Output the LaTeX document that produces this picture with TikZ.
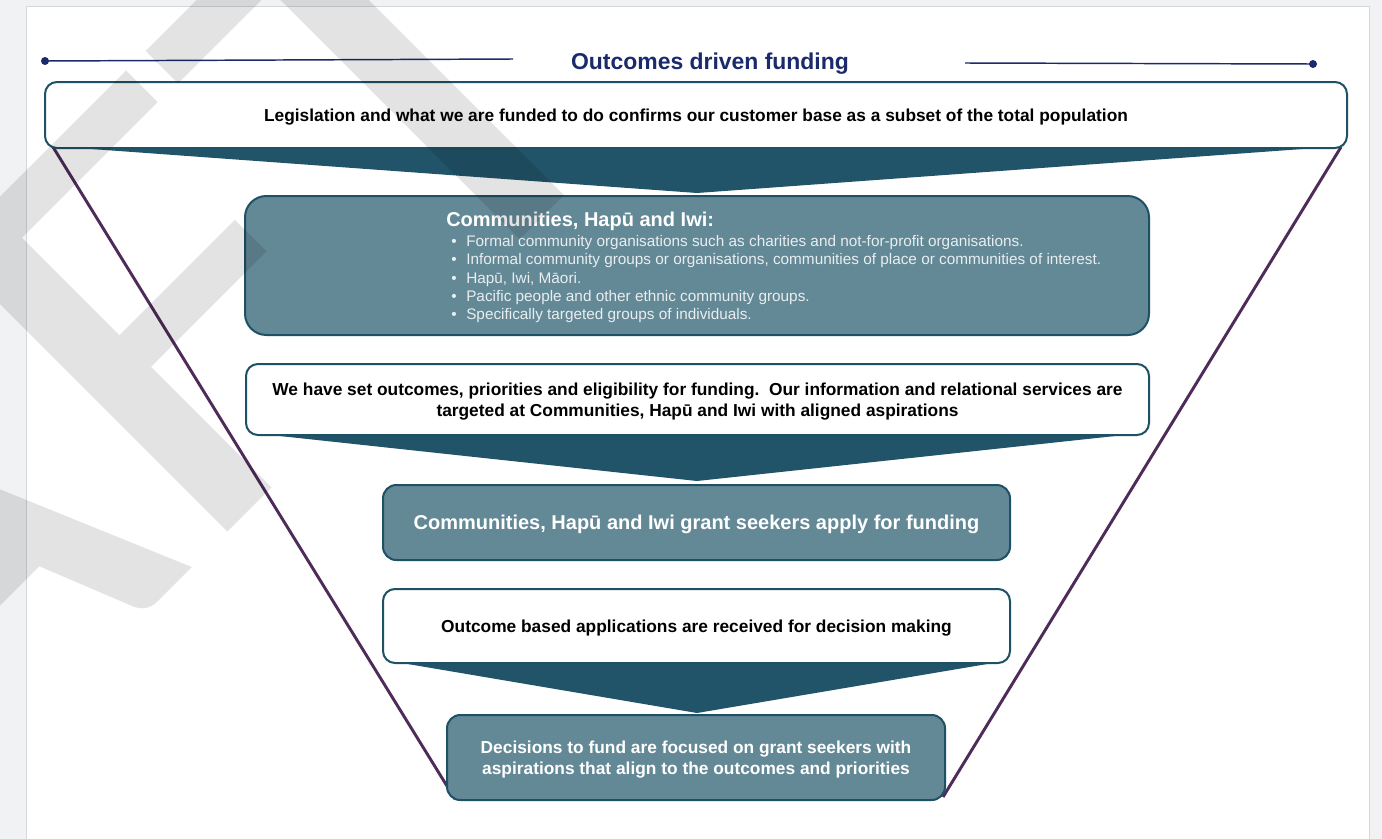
\documentclass[tikz,border=0pt]{standalone}
\usepackage{fontspec}
\setmainfont{Liberation Sans}
\newfontfamily\wmfont[Kerning=Off]{Carlito}
\definecolor{pagegrey}{HTML}{F1F2F4}
\definecolor{pageedge}{HTML}{D5D7DA}
\definecolor{navy}{HTML}{1B2A6B}
\definecolor{tealdark}{HTML}{215468}
\definecolor{tealedge}{HTML}{1E5165}
\definecolor{tealfill}{HTML}{638896}
\definecolor{funnelline}{HTML}{4E2B58}
\definecolor{listwhite}{HTML}{E9EEF0}
\begin{document}
\begin{tikzpicture}[x=0.75pt,y=-0.75pt,
  whitebox/.style={draw=tealedge, line width=1.5pt, fill=white, rounded corners=9pt, inner sep=0pt},
  tealbox/.style={draw=tealedge, line width=1.5pt, fill=tealfill, rounded corners=10pt, inner sep=0pt},
  wedge/.style={fill=tealdark},
  funnel/.style={draw=funnelline, line width=2.2pt},
  rule/.style={draw=navy, line width=1.1pt},
  dot/.style={circle, fill=navy, inner sep=0pt, minimum size=6pt},
  bodytext/.style={font=\fontsize{13}{15.75}\selectfont\bfseries, align=center, text depth=0pt},
  oneline/.style={text height=9.3pt},
  listtext/.style={font=\fontsize{11.5}{13.7}\selectfont, text=listwhite, inner sep=0pt}]
\useasboundingbox (0,0) rectangle (1382,839);
\begin{scope}
\clip (0,0) rectangle (1382,839);
% page
\fill[pagegrey] (0,0) rectangle (1382,839);
\draw[pageedge, fill=white, line width=0.8pt] (26.5,6.5) rectangle (1369.5,860);

% title with rules
\coordinate (l1) at (45,61);
\coordinate (l2) at (513,59);
\coordinate (r1) at (965,63);
\coordinate (r2) at (1313,64);
\draw[rule] (l1) -- (l2);
\draw[rule] (r1) -- (r2);
\node[dot] (d1) at (l1) {};
\node[dot] (d2) at (r2) {};
\node[font=\fontsize{17.2}{20}\selectfont\bfseries, text=navy, anchor=base, inner sep=0pt] (title) at (710,69.5) {Outcomes driven funding};

% funnel sides
\coordinate (fl1) at (53,147);
\coordinate (fl2) at (455,799);
\coordinate (fr1) at (1341,147);
\coordinate (fr2) at (943,797);
\draw[funnel] (fl1) -- (fl2);
\draw[funnel] (fr1) -- (fr2);

% wedges
\fill[wedge] (50,146) -- (1344,146) -- (697,193) -- cycle;
\fill[wedge] (252,433) -- (1143,433) -- (697,481) -- cycle;
\fill[wedge] (390,661) -- (1005,661) -- (697,713) -- cycle;

% boxes
\node[whitebox, minimum width=976.5pt, minimum height=49.5pt, bodytext, oneline] (b1) at (696,115)
  {Legislation and what we are funded to do confirms our customer base as a subset of the total population};
\node[tealbox, rounded corners=16pt, minimum width=678pt, minimum height=104.25pt] (b2) at (697,265.5) {};
\node[whitebox, minimum width=677.25pt, minimum height=53.25pt, bodytext] (b3) at (697.5,399.5)
  {We have set outcomes, priorities and eligibility for funding.\ \ Our information and relational services are\\targeted at Communities, Hap\={u} and Iwi with aligned aspirations};
\node[tealbox, minimum width=470.25pt, minimum height=56.25pt, font=\fontsize{15}{18}\selectfont\bfseries, text=white, text height=10.7pt, text depth=0pt] (b4) at (696.5,522.5)
  {Communities, Hap\={u} and Iwi grant seekers apply for funding};
\node[whitebox, minimum width=470.25pt, minimum height=55.5pt, bodytext, oneline] (b5) at (696.5,626)
  {Outcome based applications are received for decision making};
\node[tealbox, minimum width=373.5pt, minimum height=63.75pt, bodytext, text=white] (b6) at (696,757.5)
  {Decisions to fund are focused on grant seekers with\\aspirations that align to the outcomes and priorities};

% list in box 2
\node[font=\fontsize{15}{18}\selectfont\bfseries, text=white, anchor=base west, inner sep=0pt] (b2title) at (446,226) {Communities, Hap\={u} and Iwi:};
\foreach \t [count=\i] in {{Formal community organisations such as charities and not-for-profit organisations.},
  {Informal community groups or organisations, communities of place or communities of interest.},
  {Hap\={u}, Iwi, M\={a}ori.},
  {Pacific people and other ethnic community groups.},
  {Specifically targeted groups of individuals.}} {
  \node[listtext, anchor=base west] (bullet\i) at (451, 228.2+18.3*\i) {•};
  \node[listtext, anchor=base west] (item\i) at (466, 228.2+18.3*\i) {\t};
}

% watermark (node anchored at the origin of the letter F)
\node[font=\wmfont\fontsize{465}{465}\selectfont, text=black, text opacity=0.11, rotate=45, xscale=1.13, anchor=base west, inner sep=0pt] (wm) at (194,566) {\llap{DRA}FT};
\end{scope}
\end{tikzpicture}
\end{document}
